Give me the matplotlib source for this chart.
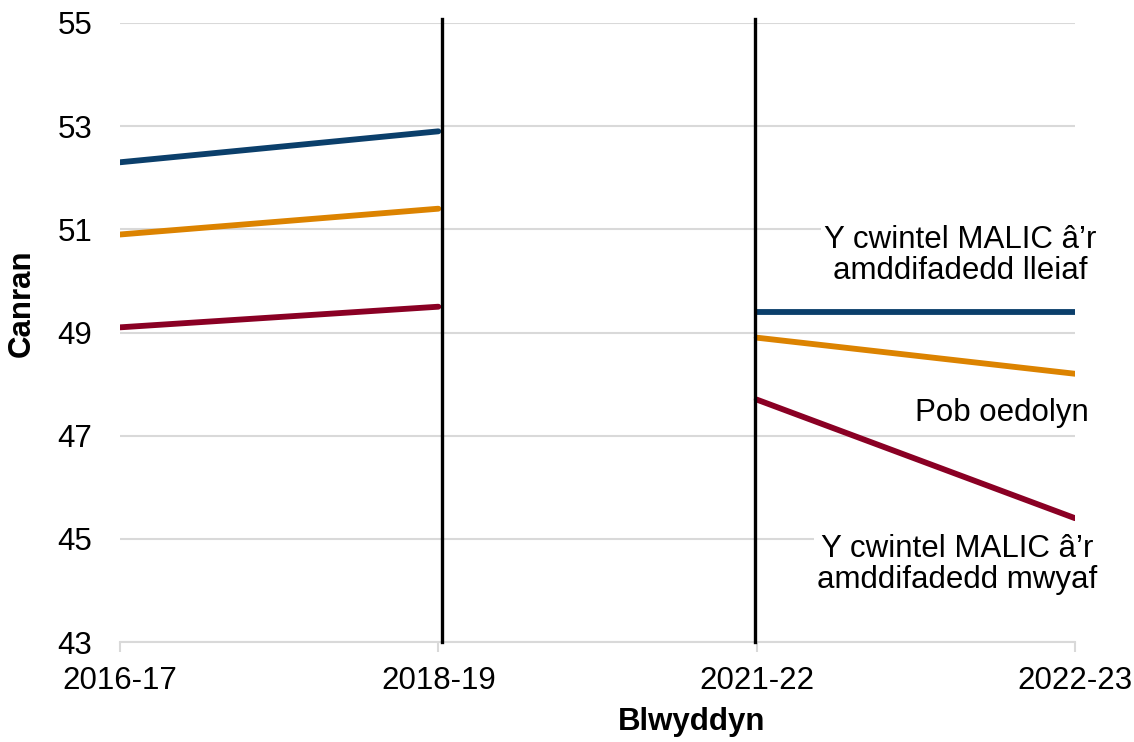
import matplotlib
matplotlib.use('Agg')
import matplotlib.pyplot as plt
import numpy as np

plt.rcParams['font.family'] = ['Liberation Sans', 'DejaVu Sans']

years = ['2016-17', '2018-19', '2021-22', '2022-23']
least_deprived = [52.3, 52.9, 49.4, 49.4]
all_adults = [50.9, 51.4, 48.9, 48.2]
most_deprived = [49.1, 49.5, 47.7, 45.4]
y_ticks = [43, 45, 47, 49, 51, 53, 55]

colors = ['#0b3f6b', '#dc8300', '#8a0024']
series = [least_deprived, all_adults, most_deprived]

fig = plt.figure(figsize=(11.34, 7.42), dpi=100)
ax = fig.add_axes([120/1134, 1 - 642/742, (1075 - 120)/1134, (642 - 23)/742])

x = np.arange(len(years))
for vals, c in zip(series, colors):
	# break between 2018-19 and 2021-22
	ax.plot(x[:2], vals[:2], color=c, lw=4.2, solid_capstyle='round', zorder=3)
	ax.plot(x[2:], vals[2:], color=c, lw=4.2, solid_capstyle='round', zorder=3)

for xv in [1.01, 1.994]:
	ax.axvline(xv, ymin=0, ymax=1.007, color='black', lw=2.4, clip_on=False, zorder=4)

ax.set_xlim(0, 3)
ax.set_ylim(43, 55)
ax.set_yticks(y_ticks)
ax.set_xticks(x)
ax.set_xticklabels(years)
ax.grid(True, axis='y', color='#d9d9d9', lw=1.5, zorder=0)
ax.set_axisbelow(True)
for s in ['top', 'right', 'left']:
	ax.spines[s].set_visible(False)
ax.spines['bottom'].set_color('#d9d9d9')
ax.spines['bottom'].set_linewidth(1.5)
ax.tick_params(axis='x', length=7, width=1.5, color='#d9d9d9', labelsize=22.5, pad=10)
ax.tick_params(axis='y', length=0, labelsize=22.5, pad=20)

fig.text(692/1134, 1 - 722/742, 'Blwyddyn', fontsize=22.5, fontweight='bold', ha='center', va='center')
fig.text(22/1134, 1 - 303/742, 'Canran', fontsize=22.5, fontweight='bold', ha='center', va='center', rotation=90)

box = dict(facecolor='white', edgecolor='none', pad=2)
ax.text(2.64, 50.5, 'Y cwintel MALIC â’r\namddifadedd lleiaf', fontsize=22.5, ha='center', va='center', bbox=box, zorder=2, linespacing=1.05)
ax.text(2.77, 47.43, 'Pob oedolyn', fontsize=22.5, ha='center', va='center', bbox=box, zorder=2)
ax.text(2.63, 44.5, 'Y cwintel MALIC â’r\namddifadedd mwyaf', fontsize=22.5, ha='center', va='center', bbox=box, zorder=2, linespacing=1.05)

plt.savefig('out.png', dpi=100)
